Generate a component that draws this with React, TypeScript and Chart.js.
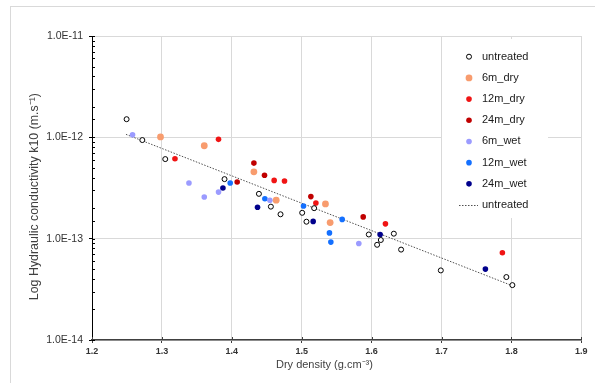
import React, { useEffect, useRef } from "react";
import { Chart, registerables } from "chart.js";

Chart.register(...registerables);

const FONT = '"Liberation Sans", Arial, Helvetica, sans-serif';

// ---- data (dry density g/cm3, hydraulic conductivity m/s) ----
const untreatedDensity = [1.2495, 1.272, 1.3048, 1.3896, 1.4388, 1.4559, 1.4697, 1.5007, 1.5068, 1.5178, 1.596, 1.6079, 1.6132, 1.6318, 1.6422, 1.699, 1.7928, 1.8014];
const untreatedK = [1.51e-12, 9.4e-13, 6.1e-13, 3.87e-13, 2.77e-13, 2.07e-13, 1.74e-13, 1.8e-13, 1.47e-13, 2.0e-13, 1.1e-13, 8.7e-14, 9.7e-14, 1.12e-13, 7.8e-14, 4.86e-14, 4.18e-14, 3.48e-14];

const dry6Density = [1.298, 1.3606, 1.4316, 1.4635, 1.534, 1.5407];
const dry6K = [1.01e-12, 8.26e-13, 4.57e-13, 2.4e-13, 2.2e-13, 1.44e-13];

const dry12Density = [1.3187, 1.381, 1.4606, 1.4754, 1.5203, 1.6198, 1.7871];
const dry12K = [6.15e-13, 9.55e-13, 3.76e-13, 3.71e-13, 2.25e-13, 1.4e-13, 7.26e-14];

const dry24Density = [1.4077, 1.4316, 1.4468, 1.5131, 1.588];
const dry24K = [3.62e-13, 5.57e-13, 4.22e-13, 2.6e-13, 1.64e-13];

const wet6Density = [1.258, 1.3387, 1.3606, 1.381, 1.4545, 1.5817];
const wet6K = [1.06e-12, 3.54e-13, 2.58e-13, 2.88e-13, 2.39e-13, 8.97e-14];

const wet12Density = [1.3977, 1.4473, 1.5026, 1.5397, 1.5417, 1.5579];
const wet12K = [3.54e-13, 2.48e-13, 2.1e-13, 1.14e-13, 9.25e-14, 1.55e-13];

const wet24Density = [1.3873, 1.4368, 1.5164, 1.6122, 1.7628];
const wet24K = [3.16e-13, 2.04e-13, 1.48e-13, 1.1e-13, 5.01e-14];

// trendline (untreated) end points
const trendDensity = [1.2486, 1.8014];
const trendK = [1.07e-12, 3.43e-14];

const seriesLabels = ["untreated", "6m_dry", "12m_dry", "24m_dry", "6m_wet", "12m_wet", "24m_wet", "untreated"];

const xMin = 1.2;
const xMax = 1.9;
const xStep = 0.1;
const yMin = 1e-14;
const yMax = 1e-11;

const xTitle = "Dry density (g.cm⁻³)";
const yTitle = "Log Hydraulic conductivity k10 (m.s⁻¹)";

const pts = (xs: number[], ys: number[]) => xs.map((x, i) => ({ x, y: ys[i] }));

const isDecade = (v: any) => {
  if (typeof v !== "number" || v <= 0) return false;
  const l = Math.log10(v);
  return Math.abs(l - Math.round(l)) < 1e-6;
};

const innerTicksPlugin = {
  id: "innerTicks",
  afterDraw(chart: any) {
    const { ctx, chartArea } = chart;
    const ys = chart.scales.y;
    const xs = chart.scales.x;
    ctx.save();
    ctx.lineWidth = 1;
    ctx.strokeStyle = "#000";
    ys.ticks.forEach((t: any) => {
      const py = Math.round(ys.getPixelForValue(t.value)) + 0.5;
      ctx.beginPath();
      ctx.moveTo(chartArea.left, py);
      ctx.lineTo(chartArea.left + 3, py);
      ctx.stroke();
    });
    ctx.strokeStyle = "#404040";
    xs.ticks.forEach((t: any) => {
      const px = Math.round(xs.getPixelForValue(t.value)) + 0.5;
      ctx.beginPath();
      ctx.moveTo(px, chartArea.bottom);
      ctx.lineTo(px, chartArea.bottom - 3);
      ctx.stroke();
    });
    ctx.restore();
  },
};

const boxLegendPlugin = {
  id: "boxLegend",
  afterDraw(chart: any) {
    const { ctx } = chart;
    ctx.save();
    ctx.fillStyle = "#ffffff";
    ctx.fillRect(442, 39, 106, 179);
    ctx.font = `11px ${FONT}`;
    ctx.textBaseline = "middle";
    ctx.textAlign = "left";
    chart.data.datasets.forEach((ds: any, i: number) => {
      const y = 56.7 + i * 21.19;
      if (ds.showLine) {
        ctx.strokeStyle = ds.borderColor;
        ctx.lineWidth = 1;
        ctx.setLineDash([1.5, 1.5]);
        ctx.beginPath();
        ctx.moveTo(459, Math.round(y) + 0.5);
        ctx.lineTo(478, Math.round(y) + 0.5);
        ctx.stroke();
        ctx.setLineDash([]);
      } else {
        ctx.beginPath();
        ctx.arc(469, y, ds.pointRadius, 0, Math.PI * 2);
        ctx.fillStyle = ds.pointBackgroundColor;
        ctx.fill();
        if (ds.pointBorderWidth > 0) {
          ctx.lineWidth = ds.pointBorderWidth;
          ctx.strokeStyle = ds.pointBorderColor;
          ctx.stroke();
        }
      }
      ctx.fillStyle = "#1a1a1a";
      ctx.fillText(ds.label, 482, y);
    });
    ctx.restore();
  },
};

const filled = (label: string, data: any[], color: string, r: number) => ({
  label,
  data,
  showLine: false,
  pointRadius: r,
  pointHoverRadius: r,
  pointBackgroundColor: color,
  pointBorderColor: color,
  pointBorderWidth: 0,
  backgroundColor: color,
  borderColor: color,
});

export default function App() {
  const canvasRef = useRef<HTMLCanvasElement | null>(null);

  useEffect(() => {
    if (!canvasRef.current) return;
    const chart = new Chart(canvasRef.current, {
      type: "scatter",
      data: {
        datasets: [
          {
            label: seriesLabels[0],
            data: pts(untreatedDensity, untreatedK),
            showLine: false,
            pointRadius: 2.5,
            pointHoverRadius: 2.5,
            pointBackgroundColor: "#ffffff",
            pointBorderColor: "#000000",
            pointBorderWidth: 1,
            backgroundColor: "#ffffff",
            borderColor: "#000000",
          },
          filled(seriesLabels[1], pts(dry6Density, dry6K), "#F89C6E", 3.4),
          filled(seriesLabels[2], pts(dry12Density, dry12K), "#F01414", 2.8),
          filled(seriesLabels[3], pts(dry24Density, dry24K), "#C00000", 2.8),
          filled(seriesLabels[4], pts(wet6Density, wet6K), "#9B9BFF", 2.8),
          filled(seriesLabels[5], pts(wet12Density, wet12K), "#1470FF", 2.8),
          filled(seriesLabels[6], pts(wet24Density, wet24K), "#00008C", 2.8),
          {
            label: seriesLabels[7],
            data: pts(trendDensity, trendK),
            showLine: true,
            borderColor: "#505050",
            backgroundColor: "#505050",
            borderWidth: 1,
            borderDash: [1.5, 1.5],
            pointRadius: 0,
            pointHoverRadius: 0,
          },
        ],
      } as any,
      options: {
        animation: false,
        responsive: false,
        devicePixelRatio: 1,
        layout: { padding: { top: 36, right: 13.7, left: 0, bottom: 0 } },
        plugins: {
          legend: { display: false },
          tooltip: { enabled: false },
        },
        scales: {
          x: {
            type: "linear",
            min: xMin,
            max: xMax,
            afterFit: (s: any) => {
              s.height = 43;
            },
            ticks: {
              stepSize: xStep,
              autoSkip: false,
              maxRotation: 0,
              padding: 3,
              color: "#333333",
              font: { family: FONT, size: 9, weight: "bold" },
              callback: (v: any) => Number(v).toFixed(1),
            },
            grid: { color: "#d9d9d9", tickColor: "#404040", tickLength: 3 },
            border: { display: true, color: "#404040", width: 1.5 },
            title: {
              display: true,
              text: xTitle + "        ",
              color: "#404040",
              font: { family: FONT, size: 11 },
              padding: { top: 0, bottom: 11 },
            },
          },
          y: {
            type: "logarithmic",
            min: yMin,
            max: yMax,
            afterFit: (s: any) => {
              s.width = 92;
            },
            ticks: {
              autoSkip: false,
              padding: 6,
              color: "#333333",
              font: { family: FONT, size: 10.5 },
              callback: (v: any) => (isDecade(Number(v)) ? Number(v).toExponential(1).toUpperCase() : ""),
            },
            grid: {
              color: (c: any) => (c.tick && isDecade(c.tick.value) ? "#d9d9d9" : "rgba(0,0,0,0)"),
              tickColor: (c: any) => (c.tick && isDecade(c.tick.value) ? "#000000" : "rgba(0,0,0,0)"),
              tickLength: 3,
            },
            border: { display: true, color: "#000000", width: 1 },
            title: {
              display: true,
              text: yTitle + "     ",
              color: "#404040",
              font: { family: FONT, size: 12.4 },
              padding: { top: 27.5, bottom: 0 },
            },
          },
        },
      } as any,
      plugins: [innerTicksPlugin, boxLegendPlugin],
    });
    return () => chart.destroy();
  }, []);

  return (
    <div style={{ position: "fixed", left: 0, top: 0, width: 595, height: 383, overflow: "hidden", background: "#fff" }}>
      <div
        style={{
          position: "absolute",
          left: 10,
          top: 6,
          width: 640,
          height: 440,
          border: "1px solid #d9d9d9",
          boxSizing: "border-box",
        }}
      />
      <canvas
        ref={canvasRef}
        width={595}
        height={383}
        style={{ position: "absolute", left: 0, top: 0, display: "block" }}
      />
    </div>
  );
}
